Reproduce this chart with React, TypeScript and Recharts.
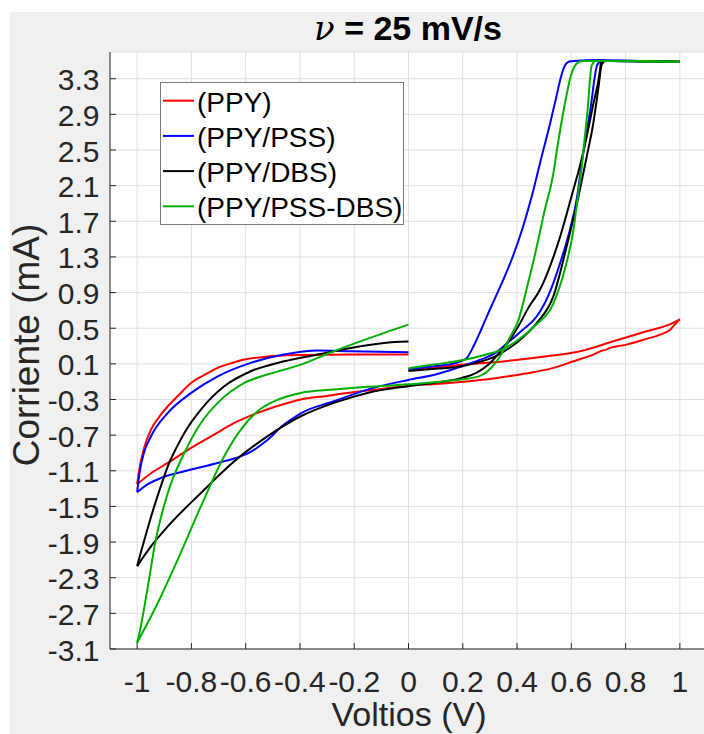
import React from 'react';
import { LineChart, Line, XAxis, YAxis, CartesianGrid } from 'recharts';

// [voltage V, current mA] pairs. Each scan: forward 0 -> 1, reverse 1 -> -1, return -1 -> 0
const ppyFwd = [
  [0, 0.03], [0.1, 0.06], [0.203, 0.092], [0.3, 0.115], [0.387, 0.14], [0.51, 0.185],
  [0.632, 0.241], [0.755, 0.353], [0.877, 0.466], [0.96, 0.54], [1, 0.6],
];
const ppyRev = [
  [1, 0.6], [0.99, 0.57], [0.963, 0.48], [0.92, 0.42], [0.877, 0.38], [0.804, 0.316], [0.743, 0.279],
  [0.73, 0.26], [0.715, 0.25], [0.681, 0.204], [0.608, 0.129], [0.534, 0.055], [0.45, 0.0],
  [0.387, -0.03], [0.3, -0.07], [0.203, -0.1], [0.1, -0.125], [0, -0.145],
  [-0.152, -0.2], [-0.2, -0.215], [-0.3, -0.26], [-0.397, -0.3], [-0.48, -0.37], [-0.556, -0.45],
  [-0.642, -0.563], [-0.72, -0.7], [-0.801, -0.843], [-0.887, -1.012], [-0.95, -1.13], [-1, -1.25],
];
const ppyRet = [
  [-1, -1.25], [-0.99, -1.05], [-0.975, -0.85], [-0.949, -0.638], [-0.92, -0.5], [-0.887, -0.376],
  [-0.85, -0.26], [-0.801, -0.114], [-0.75, -0.02], [-0.703, 0.055], [-0.65, 0.11], [-0.605, 0.148],
  [-0.54, 0.175], [-0.483, 0.19], [-0.4, 0.2], [-0.2, 0.205], [0, 0.205],
];

const pssFwd = [
  [0, 0.04], [0.1, 0.075], [0.16, 0.1], [0.19, 0.125], [0.216, 0.17], [0.24, 0.3], [0.27, 0.5],
  [0.3, 0.71], [0.34, 0.98], [0.38, 1.27], [0.42, 1.62], [0.461, 2.06], [0.49, 2.42], [0.522, 2.8],
  [0.545, 3.1], [0.56, 3.3], [0.575, 3.44], [0.59, 3.49], [0.61, 3.5], [0.7, 3.51], [0.85, 3.5],
  [1, 3.49],
];
const pssRev = [
  [1, 3.49], [0.9, 3.49], [0.75, 3.5], [0.71, 3.5], [0.695, 3.45], [0.67, 2.95], [0.64, 2.39],
  [0.62, 1.95], [0.59, 1.55], [0.559, 1.234], [0.52, 0.9], [0.473, 0.634], [0.42, 0.48],
  [0.363, 0.33], [0.32, 0.223], [0.26, 0.14], [0.197, 0.073], [0.1, -0.02], [0, -0.08],
  [-0.152, -0.189], [-0.275, -0.32], [-0.397, -0.455], [-0.43, -0.52], [-0.471, -0.61],
  [-0.5, -0.7], [-0.544, -0.81], [-0.58, -0.885], [-0.618, -0.937], [-0.703, -1.012],
  [-0.826, -1.106], [-0.912, -1.18], [-0.96, -1.25], [-1, -1.34],
];
const pssRet = [
  [-1, -1.34], [-0.99, -1.1], [-0.975, -0.9], [-0.949, -0.713], [-0.887, -0.45], [-0.801, -0.226],
  [-0.703, -0.04], [-0.581, 0.111], [-0.458, 0.204], [-0.336, 0.249], [-0.213, 0.241], [0, 0.23],
];

const dbsFwd = [
  [0, 0.02], [0.1, 0.045], [0.197, 0.073], [0.26, 0.12], [0.32, 0.185], [0.381, 0.297],
  [0.43, 0.42], [0.473, 0.56], [0.534, 0.86], [0.583, 1.42], [0.632, 2.06], [0.655, 2.4],
  [0.681, 2.8], [0.7, 3.2], [0.712, 3.46], [0.725, 3.5], [0.85, 3.5], [1, 3.49],
];
const dbsRev = [
  [1, 3.49], [0.9, 3.49], [0.75, 3.5], [0.71, 3.5], [0.706, 3.4], [0.68, 3.0], [0.657, 2.655],
  [0.63, 2.3], [0.608, 2.06], [0.559, 1.53], [0.485, 0.934], [0.44, 0.72], [0.412, 0.56],
  [0.38, 0.4], [0.344, 0.26], [0.295, 0.092], [0.25, 0.0], [0.197, -0.057], [0.1, -0.11], [0, -0.15],
  [-0.152, -0.226], [-0.275, -0.338], [-0.397, -0.488], [-0.52, -0.713], [-0.642, -0.993],
  [-0.765, -1.349], [-0.887, -1.724], [-0.949, -1.948], [-1, -2.17],
];
const dbsRet = [
  [-1, -2.17], [-0.985, -2.0], [-0.97, -1.84], [-0.955, -1.68], [-0.936, -1.49], [-0.91, -1.25],
  [-0.887, -1.05], [-0.855, -0.84], [-0.826, -0.675], [-0.765, -0.413], [-0.679, -0.152],
  [-0.581, 0.017], [-0.458, 0.129], [-0.336, 0.204], [-0.213, 0.279], [-0.09, 0.335], [0, 0.35],
];

const mixFwd = [
  [0, 0.05], [0.1, 0.095], [0.197, 0.14], [0.28, 0.2], [0.344, 0.26], [0.4, 0.36], [0.467, 0.53],
  [0.534, 0.78], [0.575, 1.15], [0.608, 1.607], [0.625, 2.0], [0.638, 2.3], [0.65, 2.65],
  [0.66, 2.95], [0.675, 3.45], [0.69, 3.5], [0.85, 3.5], [1, 3.49],
];
const mixRev = [
  [1, 3.49], [0.9, 3.49], [0.75, 3.5], [0.64, 3.5], [0.62, 3.47], [0.6, 3.35], [0.575, 3.0],
  [0.547, 2.5], [0.534, 2.24], [0.5, 1.8], [0.473, 1.42], [0.44, 1.0], [0.406, 0.6], [0.369, 0.372],
  [0.34, 0.2], [0.32, 0.111], [0.259, -0.04], [0.15, -0.09], [0, -0.13],
  [-0.152, -0.158], [-0.275, -0.189], [-0.397, -0.226], [-0.495, -0.32], [-0.556, -0.432],
  [-0.618, -0.638], [-0.679, -0.937], [-0.765, -1.499], [-0.851, -2.1], [-0.924, -2.584], [-1, -3.03],
];
const mixRet = [
  [-1, -3.03], [-0.99, -2.9], [-0.973, -2.622], [-0.955, -2.3], [-0.936, -1.948], [-0.887, -1.349],
  [-0.826, -0.9], [-0.765, -0.563], [-0.703, -0.338], [-0.605, -0.114], [-0.52, -0.02],
  [-0.397, 0.092], [-0.275, 0.241], [-0.152, 0.38], [0, 0.54],
];

const xTicks = [-1, -0.8, -0.6, -0.4, -0.2, 0, 0.2, 0.4, 0.6, 0.8, 1];
const yTicks = [-3.1, -2.7, -2.3, -1.9, -1.5, -1.1, -0.7, -0.3, 0.1, 0.5, 0.9, 1.3, 1.7, 2.1, 2.5, 2.9, 3.3];

const seriesNames = ['(PPY)', '(PPY/PSS)', '(PPY/DBS)', '(PPY/PSS-DBS)'];
const seriesColors = ['#ff0000', '#0000ff', '#000000', '#00b000'];
const seriesBranches = [
  [ppyFwd, ppyRev, ppyRet],
  [pssFwd, pssRev, pssRet],
  [dbsFwd, dbsRev, dbsRet],
  [mixFwd, mixRev, mixRet],
];

const toPoints = (s: number[][]) => s.map(([x, y]) => ({ x, y }));

const FONT = '"Liberation Sans", Arial, Helvetica, sans-serif';
const AX = '#262626';

const BottomTick = ({ x, y, payload }: any) => (
  <g>
    <line x1={x} y1={y} x2={x} y2={y - 6} stroke={AX} />
    <text x={x} y={y + 43} textAnchor="middle" fontSize={30} fill={AX} fontFamily={FONT}>
      {String(payload.value)}
    </text>
  </g>
);

const TopTick = ({ x, y }: any) => <line x1={x} y1={y} x2={x} y2={y + 6} stroke={AX} />;

const LeftTick = ({ x, y, payload }: any) => (
  <g>
    <line x1={x} y1={y} x2={x + 6} y2={y} stroke={AX} />
    <text x={x - 10.5} y={y + 11.5} textAnchor="end" fontSize={30} fill={AX} fontFamily={FONT}>
      {payload.value.toFixed(1)}
    </text>
  </g>
);

const RightTick = ({ x, y }: any) => <line x1={x} y1={y} x2={x - 6} y2={y} stroke={AX} />;

export default function App() {
  return (
    <div style={{ position: 'absolute', left: 0, top: 0, width: 704, height: 734, overflow: 'hidden', background: '#fff', fontFamily: FONT }}>
      <div style={{ position: 'absolute', left: 10, top: 12, right: 0, bottom: 0, background: '#f0f0f0' }} />
      <div style={{ position: 'absolute', left: 0, top: 0 }}>
        <LineChart width={720} height={734} margin={{ top: 52, right: 13, bottom: 0, left: 0 }}>
          <CartesianGrid stroke="#dfdfdf" fill="#ffffff" />
          <XAxis dataKey="x" type="number" domain={[-1.1, 1.1]} ticks={xTicks} interval={0}
            allowDataOverflow height={85} tickSize={0} tickMargin={0}
            axisLine={{ stroke: AX }} tickLine={false} tick={<BottomTick />} />
          <XAxis xAxisId="top" orientation="top" dataKey="x" type="number" domain={[-1.1, 1.1]}
            ticks={xTicks} interval={0} allowDataOverflow height={0} tickSize={0} tickMargin={0}
            axisLine={{ stroke: AX }} tickLine={false} tick={<TopTick />} />
          <YAxis type="number" domain={[-3.1, 3.6]} ticks={yTicks} interval={0} allowDataOverflow
            width={110} tickSize={0} tickMargin={0} axisLine={{ stroke: AX }} tickLine={false}
            tick={<LeftTick />} />
          <YAxis yAxisId="right" orientation="right" type="number" domain={[-3.1, 3.6]} ticks={yTicks}
            interval={0} allowDataOverflow width={0} tickSize={0} tickMargin={0}
            axisLine={{ stroke: AX }} tickLine={false} tick={<RightTick />} />
          {seriesBranches.map((branches, i) =>
            branches.map((b, j) => (
              <Line key={`${seriesNames[i]}-${j}`} data={toPoints(b)} dataKey="y" name={seriesNames[i]}
                type="monotoneX" stroke={seriesColors[i]} strokeWidth={2} dot={false} activeDot={false}
                isAnimationActive={false} />
            ))
          )}
        </LineChart>
      </div>
      <svg width={704} height={734} style={{ position: 'absolute', left: 0, top: 0, pointerEvents: 'none' }}>
        <text x={408} y={40} textAnchor="middle" fontSize={34} fontWeight="bold" fill="#000" fontFamily={FONT}>
          <tspan fontStyle="italic" fontWeight="normal" fontFamily='"DejaVu Serif", serif'>ν</tspan> = 25 mV/s
        </text>
        <text x={409} y={726} textAnchor="middle" fontSize={34} fill={AX} fontFamily={FONT}>Voltios (V)</text>
        <text transform="translate(39,345) rotate(-90)" textAnchor="middle" fontSize={37} fill={AX} fontFamily={FONT}>
          Corriente (mA)
        </text>
        <rect x={160.5} y={82.5} width={243} height={142} fill="#fff" stroke="#7a7a7a" />
        {seriesNames.map((n, i) => {
          const cy = 100.7 + i * 35.2;
          return (
            <g key={n}>
              <line x1={163} y1={cy} x2={194} y2={cy} stroke={seriesColors[i]} strokeWidth={2} />
              <text x={197} y={cy + 11} fontSize={28} fill="#000" fontFamily={FONT}>{n}</text>
            </g>
          );
        })}
      </svg>
    </div>
  );
}
